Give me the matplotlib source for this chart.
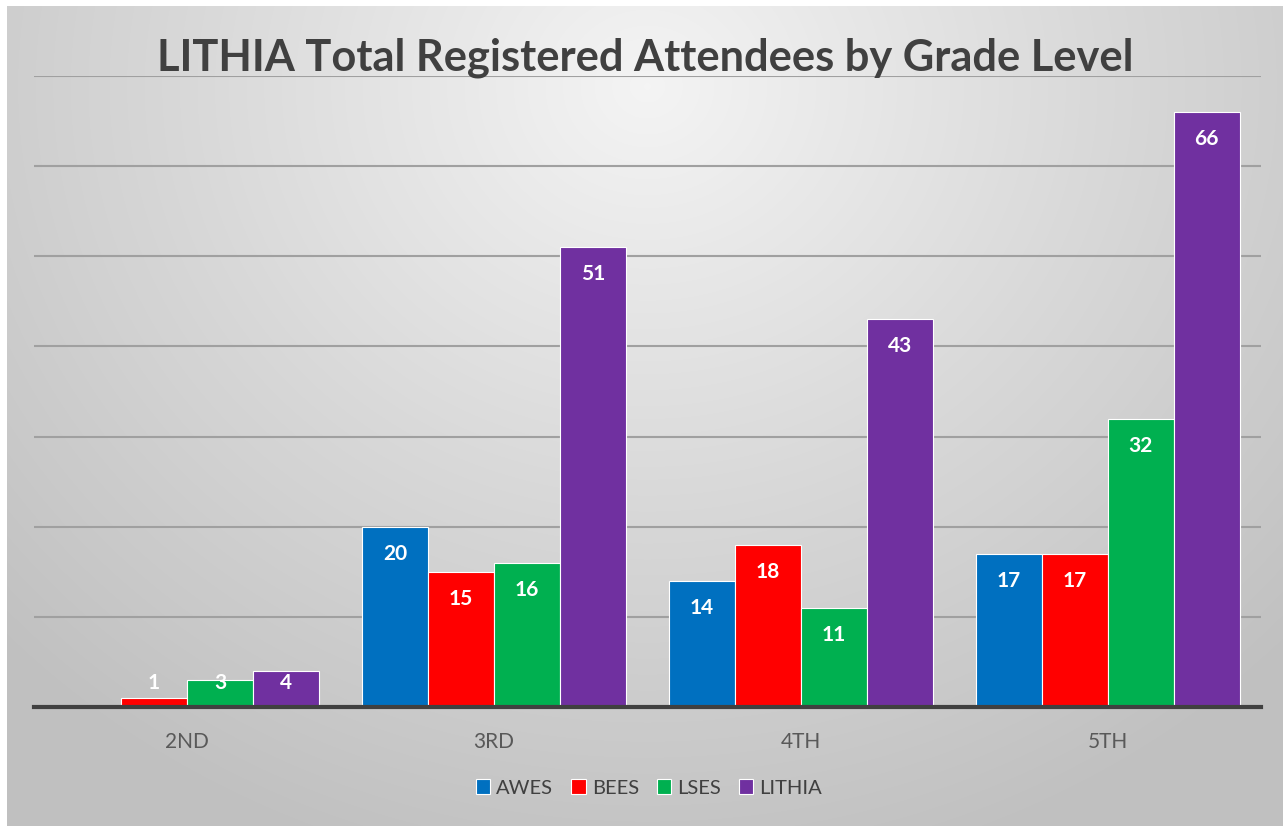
import numpy as np
import matplotlib.pyplot as plt
from matplotlib.colors import LinearSegmentedColormap

# data
grades = ["2ND", "3RD", "4TH", "5TH"]
schools = ["AWES", "BEES", "LSES", "LITHIA"]
awes = [0, 20, 14, 17]
bees = [1, 15, 18, 17]
lses = [3, 16, 11, 32]
lithia = [4, 51, 43, 66]
colors = ["#0070C0", "#FF0000", "#00B050", "#7030A0"]

FONT = "Lato"

W, H = 1283, 826
fig = plt.figure(figsize=(W / 100, H / 100), dpi=100)
fig.patch.set_facecolor("white")

# background gradient panel
bg = fig.add_axes([7 / W, 0, 1 - 7 / W, 1 - 6 / H])
yy, xx = np.mgrid[0:820, 0:1276]
d = np.sqrt(((xx - 640) / 1.0) ** 2 + ((yy - 80) * 1.1) ** 2)
d = np.clip(d / 900, 0, 1)
cmap = LinearSegmentedColormap.from_list("bg", ["#f4f4f4", "#d9d9d9", "#c0c0c0"])
bg.imshow(d, cmap=cmap, aspect="auto", extent=[0, 1, 0, 1], origin="upper")
bg.axis("off")

# plot area
left, right = 33.5, 1261
top, bottom = 76, 707
ax = fig.add_axes([left / W, 1 - bottom / H, (right - left) / W, (bottom - top) / H])
ax.patch.set_alpha(0)

series = [awes, bees, lses, lithia]
x = np.arange(len(grades))
bw = 0.215
for i, (name, vals, c) in enumerate(zip(schools, series, colors)):
    pos = x + (i - 1.5) * bw
    ax.bar(pos, vals, bw, color=c, edgecolor="white", linewidth=0.8,
           label=name, zorder=3)
    for p, v in zip(pos, vals):
        if v == 0:
            continue
        ax.text(p, max(v - 3.0, 2.66), str(v), ha="center", va="center",
                color="white", fontsize=15, fontweight="bold",
                family=FONT, zorder=4)

ax.set_xlim(-0.5, 3.5)
ax.set_ylim(0, 70)
ax.set_yticks(np.arange(10, 80, 10))
ax.yaxis.grid(True, color="#a0a0a0", linewidth=1.5, zorder=0)
ax.tick_params(axis="y", left=False, labelleft=False)
ax.tick_params(axis="x", length=0, pad=18, labelsize=15, labelcolor="#595959")
ax.set_xticks(x)
ax.set_xticklabels(grades, family=FONT)
for s in ["top", "right", "left"]:
    ax.spines[s].set_visible(False)
ax.spines["bottom"].set_color("#404040")
ax.spines["bottom"].set_linewidth(3)
ax.spines["bottom"].set_zorder(5)

fig.text(645 / W, 1 - 58 / H, "LITHIA Total Registered Attendees by Grade Level",
         ha="center", va="center", fontsize=31.2, fontweight="bold",
         color="#404040", family=FONT)

leg = fig.legend(loc="center", bbox_to_anchor=(649 / W, 1 - 788 / H), ncol=4,
                 frameon=False, handlelength=0.7, handleheight=0.7,
                 handletextpad=0.3, columnspacing=0.9,
                 prop={"family": FONT, "size": 14.5})
for t in leg.get_texts():
    t.set_color("#404040")

fig.savefig("out.png", dpi=100, facecolor=fig.get_facecolor())
